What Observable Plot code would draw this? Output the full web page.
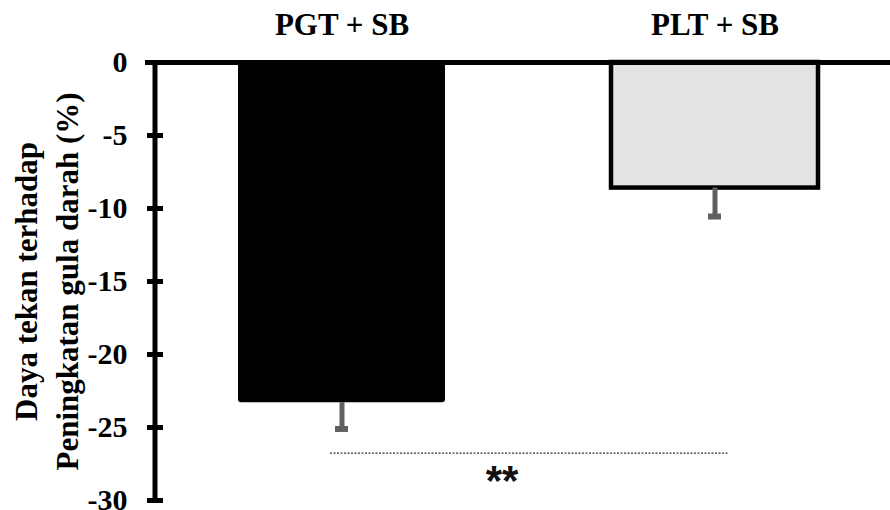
<!DOCTYPE html>
<html>
<head>
<meta charset="utf-8">
<script src="https://cdn.jsdelivr.net/npm/d3@7"></script>
<script src="https://cdn.jsdelivr.net/npm/@observablehq/plot@0.6"></script>
<style>
  html, body { margin: 0; padding: 0; background: #fff; }
</style>
</head>
<body>
<div id="chart"></div>
<script>
// Data
const categories = ["PGT + SB", "PLT + SB"];
const values = [-23.3, -8.6];
const errors = [1.8, 1.95];
const fills = ["#000000", "#e3e3e3"];
const yTicks = [0, -5, -10, -15, -20, -25, -30];
const yLabel = "Daya tekan terhadap\nPeningkatan gula darah (%)";
const sigLevel = -26.75;
const sigTextLevel = -28.1;
const sigText = "**";

const data = categories.map((c, i) => ({cat: c, value: values[i], err: errors[i], fill: fills[i]}));

const serif = "'Liberation Serif', 'Times New Roman', serif";

const axisLine = (index, scales, values, dimensions) => {
  const {marginLeft, marginTop, height, marginBottom} = dimensions;
  const g = d3.create("svg:g");
  g.append("line")
    .attr("x1", marginLeft).attr("x2", marginLeft)
    .attr("y1", marginTop).attr("y2", height - marginBottom)
    .attr("stroke", "#000").attr("stroke-width", 5);
  return g.node();
};

const chart = Plot.plot({
  width: 890,
  height: 510,
  marginLeft: 155,
  marginRight: 0,
  marginTop: 62,
  marginBottom: 10,
  style: {fontFamily: serif, fontSize: "30px", fontWeight: "bold", color: "#000", background: "#fff"},
  x: {domain: categories, range: [155, 901], paddingInner: 0.445, paddingOuter: 0.2225, axis: null},
  y: {domain: [-30, 0], axis: null},
  marks: [
    Plot.barY(data, {x: "cat", y: "value", fill: "fill", rx: 3}),
    Plot.barY(data.filter(d => d.fill !== "#000000"), {x: "cat", y: "value", fill: "fill", stroke: "#000", strokeWidth: 4.5}),
    Plot.ruleX(data, {x: "cat", y1: "value", y2: d => d.value - d.err, stroke: "#606060", strokeWidth: 5}),
    Plot.tickY(data, {x: "cat", y: d => d.value - d.err, stroke: "#606060", strokeWidth: 6, insetLeft: 97, insetRight: 97}),
    Plot.ruleY([0], {stroke: "#000", strokeWidth: 5, insetLeft: -10}),
    axisLine,
    Plot.axisY({ticks: yTicks, tickSize: 16, dx: 8, tickPadding: 20, strokeWidth: 5, fontSize: 30, fontWeight: "bold", tickFormat: d => String(d).replace("−", "-"), label: null}),
    Plot.axisX({anchor: "top", tickSize: 0, tickPadding: 28, fontSize: 31, fontWeight: "bold", label: null}),
    Plot.text([yLabel], {text: d => d, frameAnchor: "left", textAnchor: "middle", rotate: -90, dx: -111, lineHeight: 1.3, fontSize: 31, fontWeight: "bold"}),
    Plot.ruleY([sigLevel], {x1: () => categories[0], x2: () => categories[1], stroke: "#333", strokeWidth: 1.2, strokeDasharray: "2,1.5", insetLeft: 92, insetRight: 90}),
    Plot.text([sigText], {text: d => d, y: () => sigTextLevel, dx: -21, dy: 9, fontSize: 42, fontFamily: "'Liberation Sans', Arial, sans-serif", fontWeight: "bold", fill: "#111"})
  ]
});

document.getElementById("chart").appendChild(chart);
</script>
</body>
</html>
